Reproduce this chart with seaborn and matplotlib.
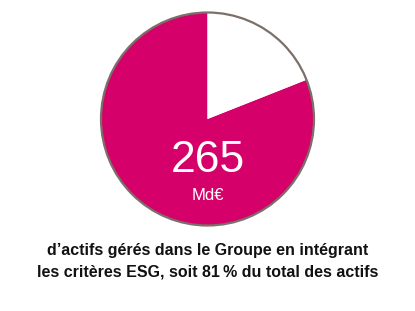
import matplotlib
matplotlib.use("Agg")
import matplotlib.pyplot as plt
from matplotlib.patches import Circle
import seaborn as sns

# Share of assets managed with ESG criteria
segments = ["Intégrant ESG", "Autres actifs"]
shares = [81, 19]
amount_label = "265"
unit_label = "Md€"
caption_lines = [
    "d’actifs gérés dans le Groupe en intégrant",
    "les critères ESG, soit 81\u2009% du total des actifs",
]

sns.set_theme(style="white")
plt.rcParams["font.family"] = ["Liberation Sans", "DejaVu Sans"]

W, H = 415, 311
fig = plt.figure(figsize=(W / 100, H / 100), dpi=100)
ax = fig.add_axes([0, 0, 1, 1])

cx, cy, r = 207.5, 192, 106.5
colors = ["#D6006A", "#FFFFFF"]
ax.pie(shares, colors=colors, startangle=90, counterclock=True,
       center=(cx, cy), radius=r, frame=True,
       wedgeprops=dict(linewidth=0))
ax.set_xlim(0, W)
ax.set_ylim(0, H)
ax.set_aspect("equal")
ax.axis("off")
ax.add_patch(Circle((cx, cy), r, fill=False, edgecolor="#7B7069", linewidth=1.6))

ax.text(cx, 151, amount_label, color="white", fontsize=32,
        ha="center", va="center")
ax.text(cx, 116, unit_label, color="white", fontsize=12,
        ha="center", va="center")

for i, line in enumerate(caption_lines):
    ax.text(W / 2, 60 - i * 21, line, color="#111111", fontsize=11.5,
            fontweight="bold", ha="center", va="center")

fig.savefig("out.png", dpi=100)
